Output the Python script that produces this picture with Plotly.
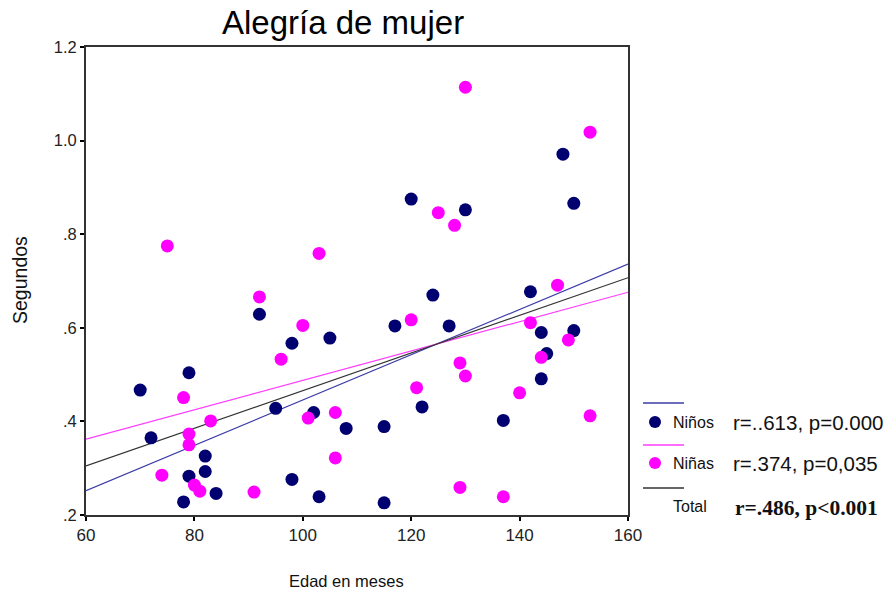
import plotly.graph_objects as go

# Age in months and time in seconds, boys (Niños)
ninos_edad = [70, 79, 72, 95, 82, 79, 82, 78, 84, 98, 98, 105, 102, 108, 103, 92,
              148, 120, 130, 150, 124, 142, 117, 127, 144, 150, 145, 144, 122, 115, 137, 115]
ninos_seg = [0.467, 0.504, 0.365, 0.428, 0.326, 0.283, 0.293, 0.228, 0.246, 0.276, 0.567, 0.578,
             0.419, 0.385, 0.239, 0.629, 0.971, 0.875, 0.852, 0.866, 0.670, 0.677, 0.604, 0.604,
             0.590, 0.594, 0.545, 0.491, 0.431, 0.389, 0.402, 0.226]

# Age in months and time in seconds, girls (Niñas)
ninas_edad = [78, 83, 79, 79, 74, 80, 81, 91, 96, 101, 106, 106, 100, 130, 153, 75,
              103, 92, 125, 128, 147, 120, 142, 149, 144, 129, 130, 121, 140, 153, 129, 137]
ninas_seg = [0.451, 0.401, 0.373, 0.350, 0.285, 0.264, 0.251, 0.249, 0.533, 0.407, 0.419, 0.322,
             0.605, 1.114, 1.018, 0.775, 0.759, 0.666, 0.846, 0.819, 0.691, 0.617, 0.611, 0.574,
             0.537, 0.525, 0.497, 0.472, 0.461, 0.412, 0.259, 0.239]

# Linear fit lines evaluated at the ends of the age axis
fit_x = [60, 160]
fit_ninos = [0.252, 0.736]
fit_ninas = [0.362, 0.676]
fit_total = [0.305, 0.707]

x_ticks = [60, 80, 100, 120, 140, 160]
y_ticks = [0.2, 0.4, 0.6, 0.8, 1.0, 1.2]
y_ticktext = [".2", ".4", ".6", ".8", "1.0", "1.2"]

NAVY = "#000070"
MAGENTA = "#FF00FF"
BLUE_LINE = "#3C3CA8"
PINK_LINE = "#FF3CFF"
BLACK_LINE = "#333333"
FONT = "Liberation Sans, Arial, sans-serif"

fig = go.Figure()

# fit lines under the markers
fig.add_trace(go.Scatter(x=fit_x, y=fit_ninos, mode="lines",
                         line=dict(color=BLUE_LINE, width=1.2), showlegend=False))
fig.add_trace(go.Scatter(x=fit_x, y=fit_ninas, mode="lines",
                         line=dict(color=PINK_LINE, width=1.2), showlegend=False))
fig.add_trace(go.Scatter(x=fit_x, y=fit_total, mode="lines",
                         line=dict(color=BLACK_LINE, width=1.2), showlegend=False))

fig.add_trace(go.Scatter(x=ninos_edad, y=ninos_seg, mode="markers", name="Niños",
                         marker=dict(color=NAVY, size=13, line=dict(width=0)),
                         showlegend=False))
fig.add_trace(go.Scatter(x=ninas_edad, y=ninas_seg, mode="markers", name="Niñas",
                         marker=dict(color=MAGENTA, size=13, line=dict(width=0)),
                         showlegend=False))

W, H = 887, 598
L, R, T, B = 86, 628, 47, 515
pw, ph = R - L, B - T


def px(x):
    return (x - L) / pw


def py(y):
    return (B - y) / ph


shapes = []
annotations = []

# hand-built legend at the right of the plot
legend_rows = [
    (BLUE_LINE, 403, NAVY, 422, "Niños", "r=..613, p=0.000", False),
    (PINK_LINE, 445, MAGENTA, 463, "Niñas", "r=.374, p=0,035", False),
    (BLACK_LINE, 488, None, 506, "Total", "r=.486, p<0.001", True),
]
for line_col, ly, dot_col, ty, label, stat, bold in legend_rows:
    shapes.append(dict(type="line", xref="paper", yref="paper",
                       x0=px(643), x1=px(684), y0=py(ly), y1=py(ly),
                       line=dict(color=line_col, width=1.5)))
    if dot_col:
        shapes.append(dict(type="circle", xref="paper", yref="paper",
                           xsizemode="pixel", ysizemode="pixel",
                           xanchor=px(655), yanchor=py(ty),
                           x0=-6, x1=6, y0=-6, y1=6,
                           fillcolor=dot_col, line=dict(width=0)))
    annotations.append(dict(xref="paper", yref="paper", x=px(671), y=py(ty),
                            xanchor="left", yanchor="middle", showarrow=False,
                            text=label, font=dict(family=FONT, size=16, color="#111")))
    if bold:
        annotations.append(dict(xref="paper", yref="paper", x=px(733), y=py(ty + 2),
                                xanchor="left", yanchor="middle", showarrow=False,
                                text="<b>" + stat + "</b>",
                                font=dict(family="Liberation Serif, Times New Roman, serif",
                                          size=21.5, color="#111")))
    else:
        annotations.append(dict(xref="paper", yref="paper", x=px(731), y=py(ty),
                                xanchor="left", yanchor="middle", showarrow=False,
                                text=stat, font=dict(family=FONT, size=20.5, color="#111")))

# axis titles and chart title
annotations.append(dict(xref="paper", yref="paper", x=px(20), y=py(280),
                        xanchor="center", yanchor="middle", showarrow=False, textangle=-90,
                        text="Segundos", font=dict(family=FONT, size=19.5, color="#111")))
annotations.append(dict(xref="paper", yref="paper", x=px(346), y=py(581),
                        xanchor="center", yanchor="middle", showarrow=False,
                        text="Edad en meses", font=dict(family=FONT, size=16.5, color="#111")))
annotations.append(dict(xref="paper", yref="paper", x=px(343), y=py(23),
                        xanchor="center", yanchor="middle", showarrow=False,
                        text="Alegría de mujer", font=dict(family=FONT, size=33, color="#000")))

fig.update_layout(
    width=W, height=H,
    margin=dict(l=L, r=W - R, t=T, b=H - B, pad=0),
    paper_bgcolor="white", plot_bgcolor="white",
    showlegend=False,
    shapes=shapes, annotations=annotations,
    xaxis=dict(range=[60, 160], tickvals=x_ticks, showgrid=False, zeroline=False,
               showline=True, linecolor="#333", linewidth=2, mirror=True,
               ticks="outside", ticklen=4, tickwidth=2, tickcolor="#000",
               tickfont=dict(family=FONT, size=17, color="#222")),
    yaxis=dict(range=[0.2, 1.2], tickvals=y_ticks, ticktext=y_ticktext,
               showgrid=False, zeroline=False,
               showline=True, linecolor="#333", linewidth=2, mirror=True,
               ticks="outside", ticklen=4, tickwidth=2, tickcolor="#000",
               tickfont=dict(family=FONT, size=16.5, color="#222")),
)

fig.write_html("out.html")
